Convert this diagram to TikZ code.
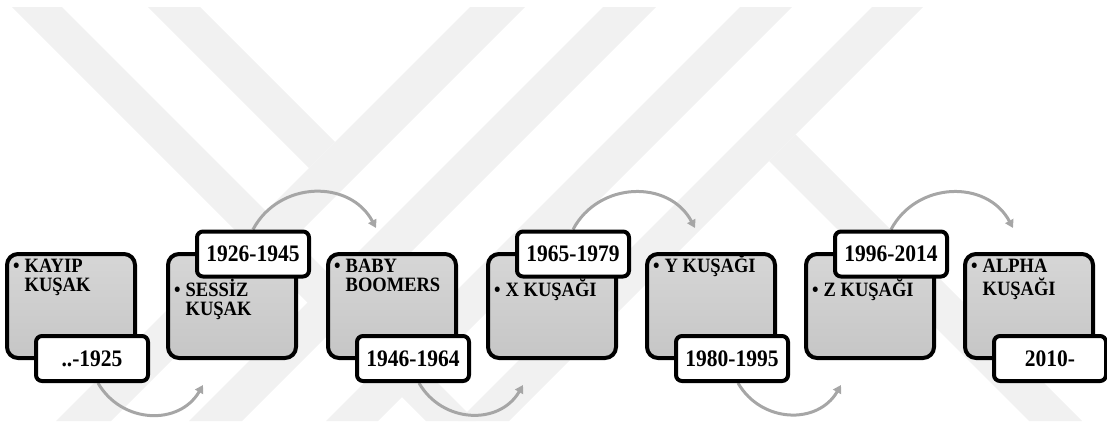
\documentclass[tikz,border=0pt]{standalone}
\usepackage{fontspec}
\setmainfont{Liberation Serif}
\usetikzlibrary{arrows.meta,calc}

\pgfdeclarelayer{wmark}
\pgfdeclarelayer{flows}
\pgfsetlayers{wmark,flows,main}

\definecolor{wmgray}{RGB}{241,241,241}
\definecolor{boxtop}{RGB}{214,214,214}
\definecolor{boxbot}{RGB}{198,198,198}
\definecolor{flowgray}{RGB}{166,166,166}

\newcommand{\tall}[1]{\scalebox{1}[1.1]{#1}}
\newcommand{\genlist}[2]{\tall{\begin{tabular}[t]{@{}l@{\hspace{5pt}}l@{}}\textbullet & #1\\ & #2\end{tabular}}}
\newcommand{\genone}[1]{\tall{\begin{tabular}[t]{@{}l@{\hspace{5pt}}l@{}}\textbullet & #1\end{tabular}}}

\begin{document}
\begin{tikzpicture}[x=1pt,y=1pt,
  gen/.style={draw=black, line width=4pt, rounded corners=11pt,
    top color=boxtop, bottom color=boxbot,
    minimum width=128pt, minimum height=104pt, inner sep=0pt},
  datebox/.style={draw=black, line width=4pt, rounded corners=6pt, fill=white,
    minimum width=112pt, minimum height=45pt, inner sep=0pt,
    font=\fontsize{21.5}{24}\selectfont\bfseries},
  gentext/.style={anchor=base west, inner sep=0pt,
    font=\fontsize{18.5}{17}\selectfont\bfseries},
  flow/.style={draw=flowgray, line width=3pt, -{Triangle[length=8pt,width=9pt]}},
  wm/.style={fill=wmgray}
]
\useasboundingbox (0,0) rectangle (1107,-421);

% faint background emblem
\begin{pgfonlayer}{wmark}
  \begin{scope}
    \clip (0,0) rectangle (1107,-421);
    \fill[wm] (12,-7) -- (62,-7) -- (476,-421) -- (426,-421) -- cycle;
    \fill[wm] (148,-7) -- (200,-7) -- (335,-142) -- (309,-168) -- cycle;
    \fill[wm] (470,-7) -- (525,-7) -- (111,-421) -- (56,-421) -- cycle;
    \fill[wm] (603,-7) -- (656,-7) -- (242,-421) -- (189,-421) -- cycle;
    \fill[wm] (740,-7) -- (792,-7) -- (378,-421) -- (326,-421) -- cycle;
    \fill[wm] (872,-7) -- (923,-7) -- (509,-421) -- (458,-421) -- cycle;
    \fill[wm] (795.5,-134.5) -- (1082,-421) -- (1029,-421) -- (769,-161) -- cycle;
  \end{scope}
\end{pgfonlayer}

% generation boxes
\node[gen] (b1) at (71,-306) {};
\node[gen] (b2) at (232,-306) {};
\node[gen] (b3) at (392,-306) {};
\node[gen] (b4) at (552,-306) {};
\node[gen] (b5) at (711,-306) {};
\node[gen] (b6) at (870,-306) {};
\node[gen] (b7) at (1029,-306) {};

% generation names
\node[gentext] (t1) at ($(b1.north west)+(8,-20)$) {\genlist{KAYIP}{KUŞAK}};
\node[gentext] (t2) at ($(b2.north west)+(8,-44)$) {\genlist{SESSİZ}{KUŞAK}};
\node[gentext] (t3) at ($(b3.north west)+(8,-20)$) {\genlist{BABY}{BOOMERS}};
\node[gentext] (t4) at ($(b4.north west)+(8,-44)$) {\genone{X KUŞAĞI}};
\node[gentext] (t5) at ($(b5.north west)+(8,-20)$) {\genone{Y KUŞAĞI}};
\node[gentext] (t6) at ($(b6.north west)+(8,-44)$) {\genone{Z KUŞAĞI}};
\node[gentext] (t7) at ($(b7.north west)+(8,-20)$) {\genlist{ALPHA}{KUŞAĞI}};

% year ranges
\node[datebox] (d1) at ($(b1)+(21,-52.5)$) {\tall{..-1925}};
\node[datebox] (d2) at ($(b2)+(21,52)$) {\tall{1926-1945}};
\node[datebox] (d3) at ($(b3)+(21,-52.5)$) {\tall{1946-1964}};
\node[datebox] (d4) at ($(b4)+(21,52)$) {\tall{1965-1979}};
\node[datebox] (d5) at ($(b5)+(21,-52.5)$) {\tall{1980-1995}};
\node[datebox] (d6) at ($(b6)+(21,52)$) {\tall{1996-2014}};
\node[datebox] (d7) at ($(b7)+(21,-52.5)$) {\tall{2010-}};

% arrow ends near the following box
\coordinate (e12) at ($(b2.south west)+(37,-25)$);
\coordinate (e23) at ($(b3.north west)+(50,24)$);
\coordinate (e34) at ($(b4.south west)+(37,-25)$);
\coordinate (e45) at ($(b5.north west)+(50,24)$);
\coordinate (e56) at ($(b6.south west)+(37,-25)$);
\coordinate (e67) at ($(b7.north west)+(50,24)$);

\begin{pgfonlayer}{flows}
  \draw[flow] ($(d1.south)+(6,0)$) to[out=-60,in=-120,looseness=1.15] (e12);
  \draw[flow] (d2.north) to[out=62,in=118,looseness=1.15] (e23);
  \draw[flow] ($(d3.south)+(6,0)$) to[out=-60,in=-120,looseness=1.15] (e34);
  \draw[flow] (d4.north) to[out=62,in=118,looseness=1.15] (e45);
  \draw[flow] ($(d5.south)+(6,0)$) to[out=-60,in=-120,looseness=1.15] (e56);
  \draw[flow] (d6.north) to[out=62,in=118,looseness=1.15] (e67);
\end{pgfonlayer}
\end{tikzpicture}
\end{document}
